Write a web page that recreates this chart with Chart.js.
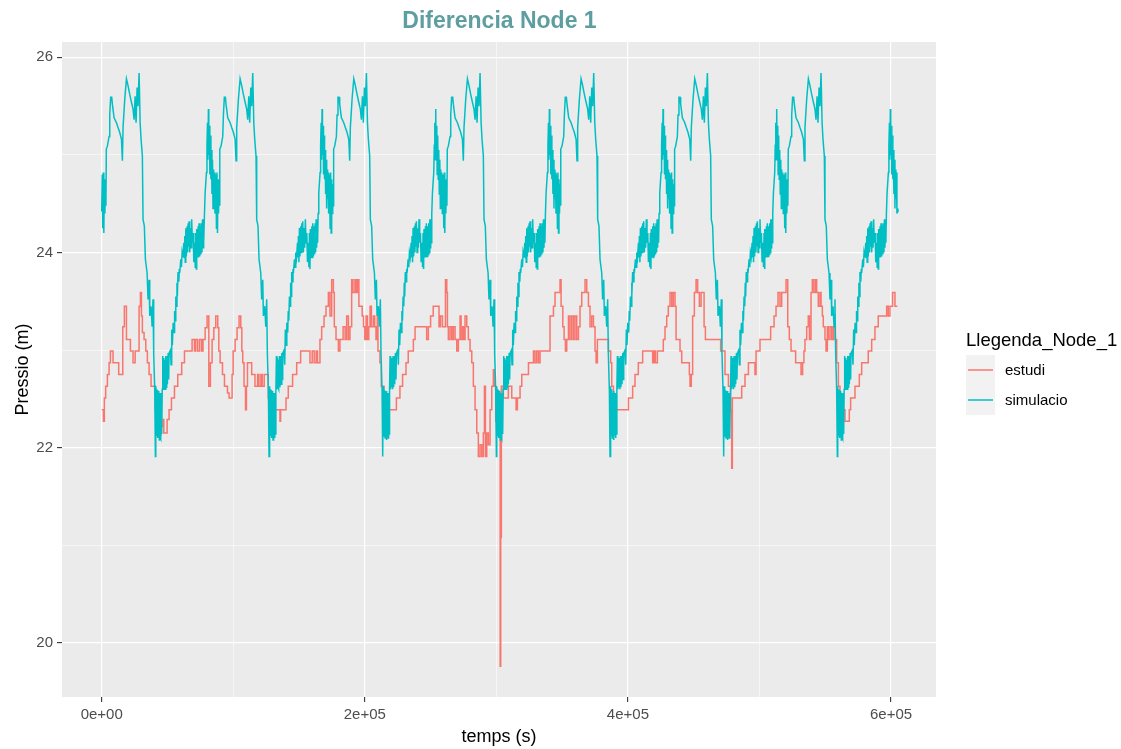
<!DOCTYPE html>
<html>
<head>
<meta charset="utf-8">
<script src="https://cdn.jsdelivr.net/npm/chart.js@4.4.1/dist/chart.umd.min.js"></script>
<style>
  body { margin: 0; background: #ffffff; font-family: "Liberation Sans", Arial, sans-serif; }
  #wrap { position: relative; width: 1121px; height: 749px; }
  #chart { position: absolute; left: 0; top: 0; }
  #title { position: absolute; left: 0; width: 999px; top: 7px; text-align: center;
           font-weight: bold; font-size: 23px; color: #5F9EA0; }
  #legend { position: absolute; left: 966px; top: 328px; color: #000; }
  #legend .ttl { font-size: 18.5px; line-height: 24px; white-space: nowrap; }
  #legend .row { position: relative; height: 30px; }
  #legend .key { position: absolute; left: 0; top: 0; width: 29px; height: 30px; background: #F2F2F2; }
  #legend .key span { position: absolute; left: 2px; width: 25px; top: 14px; height: 2px; opacity: 0.75; }
  #legend .lab { position: absolute; left: 39px; top: 6px; font-size: 15px; line-height: 18px; }
</style>
</head>
<body>
<div id="wrap">
  <canvas id="chart" width="1121" height="749"></canvas>
  <div id="title">Diferencia Node 1</div>
  <div id="legend">
    <div class="ttl">Llegenda_Node_1</div>
    <div style="height:3px"></div>
    <div class="row"><div class="key"><span style="background:#F8766D"></span></div><div class="lab">estudi</div></div>
    <div class="row"><div class="key"><span style="background:#00BFC4"></span></div><div class="lab">simulacio</div></div>
  </div>
</div>
<script>
// temps en milers de segons (ks)

// simulacio: el patro diari es repeteix igual cada dia
const simDayStarts = [0, 86.4, 172.8, 259.2, 345.6, 432.0, 518.4];
const simPhase = [0, 0.4, 0.8, 1.2, 1.6, 2.0, 2.4, 2.8, 3.2, 3.5, 4.3, 5.6, 6.1, 6.8, 7.6, 8.1, 9.4, 11.2, 12.4, 13.7,
  15.0, 15.7, 16.2, 17.5, 18.8, 20.0, 21.3, 22.6, 23.8, 24.6, 25.4, 26.1, 26.9, 27.6, 28.4, 29.2, 29.9, 30.9, 31.4, 32.4,
  33.2, 34.5, 35.2, 36.0, 36.5, 37.5, 38.3, 39.0, 39.5, 40.3, 40.8, 41.1, 41.4, 41.7, 42.0, 42.3, 42.6, 42.9, 43.2, 43.5,
  43.8, 44.1, 44.4, 44.7, 45.0, 45.3, 45.6, 46.0, 46.4, 46.8, 47.2, 47.6, 47.9, 48.3, 48.7, 49.1, 49.4, 49.9, 50.5, 50.9,
  51.2, 52.2, 52.7, 53.2, 53.7, 54.3, 55.0, 55.4, 55.8, 56.3, 56.8, 57.2, 57.5, 58.0, 58.6, 59.0, 59.3, 60.1, 60.6, 61.1,
  61.7, 62.4, 62.8, 63.1, 63.5, 63.9, 64.3, 64.9, 65.3, 65.7, 66.1, 66.4, 66.9, 67.4, 67.9, 68.4, 68.9, 69.5, 70.0, 70.7,
  71.1, 71.5, 71.9, 72.2, 72.7, 73.3, 73.6, 74.0, 74.5, 75.0, 75.4, 75.8, 76.2, 76.6, 77.0, 77.3, 77.7, 78.1, 78.6, 79.6,
  80.0, 80.4, 80.7, 81.1, 81.4, 81.9, 82.2, 82.6, 83.0, 83.4, 83.8, 84.2, 84.6, 84.9, 85.3, 85.7, 86.1];
const simLevel = [24.42, 24.80, 24.25, 24.82, 24.20, 24.75, 24.40, 24.70, 24.48, 25.06, 25.09, 25.19, 25.41, 25.59, 25.59, 25.52, 25.38, 25.33, 25.28, 25.23,
  25.16, 24.94, 25.28, 25.57, 25.78, 25.71, 25.62, 25.54, 25.47, 25.36, 25.60, 25.33, 25.69, 25.50, 25.84, 25.33, 25.16, 24.99, 24.34, 24.27,
  23.93, 23.79, 23.52, 23.72, 23.35, 23.45, 23.24, 23.52, 22.97, 22.59, 21.91, 22.63, 22.15, 22.60, 22.12, 22.59, 22.10, 22.56, 22.12, 22.58,
  22.08, 22.56, 22.12, 22.55, 22.10, 22.56, 22.14, 22.60, 22.94, 22.60, 22.92, 22.62, 22.90, 22.60, 22.94, 22.62, 22.94, 22.65, 22.97, 22.70,
  22.97, 23.00, 22.85, 23.21, 23.05, 23.28, 23.18, 23.40, 23.30, 23.55, 23.45, 23.69, 23.55, 23.80, 23.70, 23.83, 23.79, 23.93, 23.85, 24.00,
  23.95, 24.10, 23.95, 24.17, 23.90, 24.25, 23.96, 24.27, 24.00, 24.30, 24.06, 24.32, 24.00, 24.25, 24.05, 24.34, 24.10, 24.20, 23.90, 24.10,
  23.85, 24.20, 23.83, 24.24, 23.95, 24.27, 23.95, 24.30, 23.96, 24.27, 23.98, 24.30, 24.00, 24.34, 24.05, 24.34, 24.10, 24.40, 24.61, 24.82,
  25.10, 25.33, 24.95, 25.47, 25.00, 25.30, 24.80, 25.20, 24.75, 25.05, 24.60, 24.95, 24.45, 24.85, 24.55, 24.82, 24.40];
const simTail = [[604.8, 24.42], [605.3, 24.45]];

// estudi: [temps, pressio] als canvis de nivell
const estudi = [[0,22.39],[1.3,22.27],[2.0,22.51],[3.0,22.63],[4.3,22.75],[5.6,22.87],[6.6,22.99],[8.6,22.87],[12.9,22.75],[16.0,23.24],
  [17.2,23.45],[18.8,23.11],[21.8,22.99],[23.8,22.87],[25.4,22.99],[28.4,23.45],[29.4,23.59],[30.2,23.35],[30.9,23.18],[32.2,23.11],
  [33.5,22.99],[34.7,22.87],[36.0,22.75],[37.5,22.63],[40.8,22.39],[41.5,22.22],[42.3,22.13],[44.9,22.22],[46.6,22.29],[47.2,22.15],
  [49.7,22.29],[51.2,22.39],[53.0,22.51],[55.3,22.63],[57.8,22.75],[60.8,22.87],[62.9,22.99],[68.7,23.11],[70.5,22.99],[71.5,23.11],
  [73.0,22.99],[74.5,23.11],[76.0,22.99],[77.0,23.11],[78.6,23.23],[80.1,23.35],[81.4,22.63],[82.6,22.87],[83.9,23.11],[85.2,23.23],
  [86.7,23.35],[88.2,23.23],[89.0,22.99],[90.0,22.87],[91.8,22.75],[93.3,22.63],[95.6,22.56],[96.8,22.51],[99.1,22.75],[99.9,22.99],
  [101.4,23.11],[102.9,23.23],[104.4,23.35],[105.7,23.23],[106.5,22.99],[107.2,22.87],[108.2,22.63],[109.3,22.39],[110.0,22.63],[110.8,22.87],
  [114.0,22.75],[116.5,22.63],[118.5,22.75],[119.5,22.63],[121.0,22.75],[122.0,22.63],[123.5,22.75],[126.6,22.51],[127.5,22.39],[129.5,22.27],
  [131.0,22.39],[135.5,22.27],[136.0,22.39],[140.1,22.51],[141.8,22.63],[145.1,22.75],[148.2,22.87],[151.2,22.99],[158.3,22.87],[160.0,22.99],
  [161.5,22.87],[163.0,22.99],[164.0,22.87],[165.9,23.11],[167.2,23.24],[169.0,23.35],[170.5,23.45],[172.3,23.59],[173.5,23.35],[174.8,23.72],
  [176.1,23.59],[176.8,23.24],[178.1,23.11],[179.9,22.99],[181.1,23.11],[183.5,23.24],[185.0,23.11],[186.2,23.35],[187.5,23.11],[188.7,23.24],
  [190.0,23.72],[191.0,23.59],[192.5,23.72],[193.5,23.59],[194.5,23.72],[195.5,23.45],[198.0,23.35],[199.0,23.24],[200.0,23.11],[201.0,23.35],
  [202.0,23.11],[203.0,23.24],[204.0,23.45],[205.0,23.24],[206.5,23.35],[207.5,23.24],[208.5,23.11],[209.5,23.35],[210.0,22.99],[211.5,22.87],
  [212.5,22.63],[214.5,22.51],[216.5,22.39],[224.0,22.51],[226.7,22.63],[228.7,22.75],[231.3,22.87],[233.0,22.99],[236.9,23.11],[238.2,23.24],
  [247.0,23.11],[248.3,23.24],[250.0,23.35],[252.0,23.45],[256.4,23.24],[257.5,23.35],[259.0,23.24],[261.3,23.72],[262.3,23.59],[262.8,23.24],
  [263.5,23.11],[264.8,23.24],[266.1,23.11],[267.3,23.24],[268.6,23.11],[269.9,22.99],[271.1,23.11],[272.4,23.35],[273.2,23.11],[274.4,23.24],
  [275.4,23.11],[276.2,23.35],[277.5,23.24],[278.7,23.11],[280.0,22.99],[281.3,22.87],[282.5,22.63],[283.8,22.39],[285.1,22.15],[286.3,21.91],
  [287.6,22.03],[288.9,21.91],[290.1,22.15],[290.9,22.63],[291.7,21.91],[292.7,22.15],[293.9,22.03],[295.2,22.39],[296.5,22.63],[297.7,22.80],
  [298.5,22.63],[299.5,22.27],[302.6,22.15],[302.9,19.76],[303.3,21.08],[303.8,22.63],[305.3,22.51],[309.1,22.63],[311.7,22.51],[315.0,22.39],
  [316.0,22.51],[318.0,22.63],[319.3,22.75],[324.4,22.87],[328.2,22.99],[329.4,22.87],[330.7,22.99],[332.0,22.87],[333.2,22.99],[340.8,23.35],
  [343.4,23.45],[344.6,23.59],[348.4,23.72],[349.2,23.45],[350.5,23.24],[351.5,23.11],[352.5,22.99],[353.5,23.11],[354.8,23.35],[356.0,23.11],
  [357.3,23.35],[358.6,23.11],[359.8,23.35],[361.1,23.11],[362.4,23.24],[363.6,23.45],[364.9,23.59],[367.4,23.72],[368.7,23.59],[370.0,23.45],
  [371.2,23.24],[372.5,23.35],[373.8,23.24],[375.0,22.99],[375.8,22.87],[376.8,23.11],[385.2,22.99],[386.9,22.87],[387.7,22.63],[389.0,22.39],
  [400.4,22.51],[403.6,22.63],[405.4,22.75],[407.9,22.87],[411.2,22.99],[418.8,22.87],[419.8,22.99],[420.9,22.87],[422.4,22.99],[426.9,23.11],
  [428.2,23.24],[429.5,23.35],[430.7,23.45],[432.0,23.59],[433.3,23.45],[434.5,23.59],[435.8,23.45],[436.6,23.11],[439.6,22.99],[440.9,22.87],
  [446.7,22.75],[447.2,22.63],[448.2,22.75],[449.2,23.35],[450.5,23.59],[451.8,23.72],[453.0,23.59],[454.3,23.45],[455.6,23.59],[457.9,23.24],
  [458.9,23.11],[470.5,22.99],[473.8,22.75],[476.4,22.63],[478.1,22.39],[478.9,21.79],[479.4,22.51],[486.5,22.63],[489.0,22.75],[491.6,22.87],
  [496.6,22.75],[497.4,22.99],[500.4,23.11],[508.5,23.24],[511.1,23.35],[512.6,23.45],[514.1,23.59],[515.6,23.45],[516.9,23.59],[520.2,23.72],
  [521.5,23.24],[522.7,23.11],[524.0,22.99],[527.5,22.87],[531.6,22.75],[532.8,22.87],[533.8,22.99],[534.6,23.11],[535.9,23.24],[537.1,23.35],
  [538.0,23.11],[539.2,23.59],[540.2,23.72],[541.4,23.59],[542.7,23.72],[543.5,23.59],[544.7,23.45],[546.0,23.59],[546.8,23.45],[547.8,23.35],
  [548.5,23.24],[549.8,23.11],[550.6,22.99],[551.6,23.24],[552.3,23.11],[553.6,23.24],[554.9,23.11],[556.1,23.24],[557.4,23.11],[558.7,22.87],
  [560.0,22.63],[561.2,22.51],[563.7,22.39],[565.0,22.27],[568.3,22.39],[569.3,22.51],[572.6,22.63],[575.9,22.75],[577.7,22.87],[582.7,22.99],
  [585.3,23.11],[587.8,23.24],[590.3,23.35],[596.7,23.45],[597.9,23.35],[599.2,23.45],[601.2,23.59],[603.0,23.45],[604.8,23.45]];

// eixos
const xMajor = [0, 200000, 400000, 600000];
const xMajorLabels = ['0e+00', '2e+05', '4e+05', '6e+05'];
const xMinor = [100000, 300000, 500000];
const yMajor = [20, 22, 24, 26];
const yMajorLabels = ['20', '22', '24', '26'];
const yMinor = [21, 23, 25];

const simPoints = [];
simDayStarts.forEach(start => {
  simPhase.forEach((p, i) => simPoints.push({ x: (start + p) * 1000, y: simLevel[i] }));
});
simTail.forEach(([t, v]) => simPoints.push({ x: t * 1000, y: v }));

const estudiPoints = estudi.map(([t, v]) => ({ x: t * 1000, y: v }));

const isMajor = (list, v) => list.some(m => Math.abs(m - v) < 1e-6);

const panelBg = {
  id: 'panelBg',
  beforeDraw(chart) {
    const { ctx, chartArea: a } = chart;
    ctx.save();
    ctx.fillStyle = '#EBEBEB';
    ctx.fillRect(a.left, a.top, a.right - a.left, a.bottom - a.top);
    ctx.restore();
  }
};

const axisFont = { family: '"Liberation Sans", Arial, sans-serif', size: 15 };
const titleFont = { family: '"Liberation Sans", Arial, sans-serif', size: 18 };

const ctx = document.getElementById('chart').getContext('2d');
new Chart(ctx, {
  type: 'line',
  data: {
    datasets: [
      {
        label: 'simulacio',
        data: simPoints,
        borderColor: '#00BFC4',
        borderWidth: 1.5,
        pointRadius: 0,
        tension: 0,
        order: 0
      },
      {
        label: 'estudi',
        data: estudiPoints,
        borderColor: '#F8766D',
        borderWidth: 1.5,
        pointRadius: 0,
        stepped: true,
        order: 1
      }
    ]
  },
  options: {
    responsive: false,
    animation: false,
    parsing: false,
    layout: { padding: { top: 42, right: 185, left: 0, bottom: 0 } },
    plugins: { legend: { display: false }, tooltip: { enabled: false } },
    scales: {
      x: {
        type: 'linear',
        min: -30200,
        max: 634200,
        afterBuildTicks: s => { s.ticks = [...xMajor, ...xMinor].sort((a, b) => a - b).map(v => ({ value: v })); },
        afterFit: s => { s.height = 52; },
        ticks: {
          autoSkip: false,
          maxRotation: 0,
          padding: 4,
          color: '#4D4D4D',
          font: axisFont,
          callback: v => { const i = xMajor.indexOf(v); return i >= 0 ? xMajorLabels[i] : ''; }
        },
        grid: {
          color: '#FFFFFF',
          lineWidth: c => isMajor(xMajor, c.tick.value) ? 1.2 : 0.55,
          tickColor: c => isMajor(xMajor, c.tick.value) ? '#333333' : 'rgba(0,0,0,0)',
          tickLength: 5,
          tickWidth: 1.1
        },
        border: { display: false },
        title: { display: true, text: 'temps (s)', color: '#000000', font: titleFont, padding: { top: 4, bottom: 1 } }
      },
      y: {
        type: 'linear',
        min: 19.446,
        max: 26.157,
        afterBuildTicks: s => { s.ticks = [...yMajor, ...yMinor].sort((a, b) => a - b).map(v => ({ value: v })); },
        afterFit: s => { s.width = 62; },
        ticks: {
          autoSkip: false,
          padding: 4,
          color: '#4D4D4D',
          font: axisFont,
          callback: v => { const i = yMajor.indexOf(v); return i >= 0 ? yMajorLabels[i] : ''; }
        },
        grid: {
          color: '#FFFFFF',
          lineWidth: c => isMajor(yMajor, c.tick.value) ? 1.2 : 0.55,
          tickColor: c => isMajor(yMajor, c.tick.value) ? '#333333' : 'rgba(0,0,0,0)',
          tickLength: 5,
          tickWidth: 1.1
        },
        border: { display: false },
        title: { display: true, text: 'Pressio (m)', color: '#000000', font: titleFont, padding: { top: 12 } }
      }
    }
  },
  plugins: [panelBg]
});
</script>
</body>
</html>
